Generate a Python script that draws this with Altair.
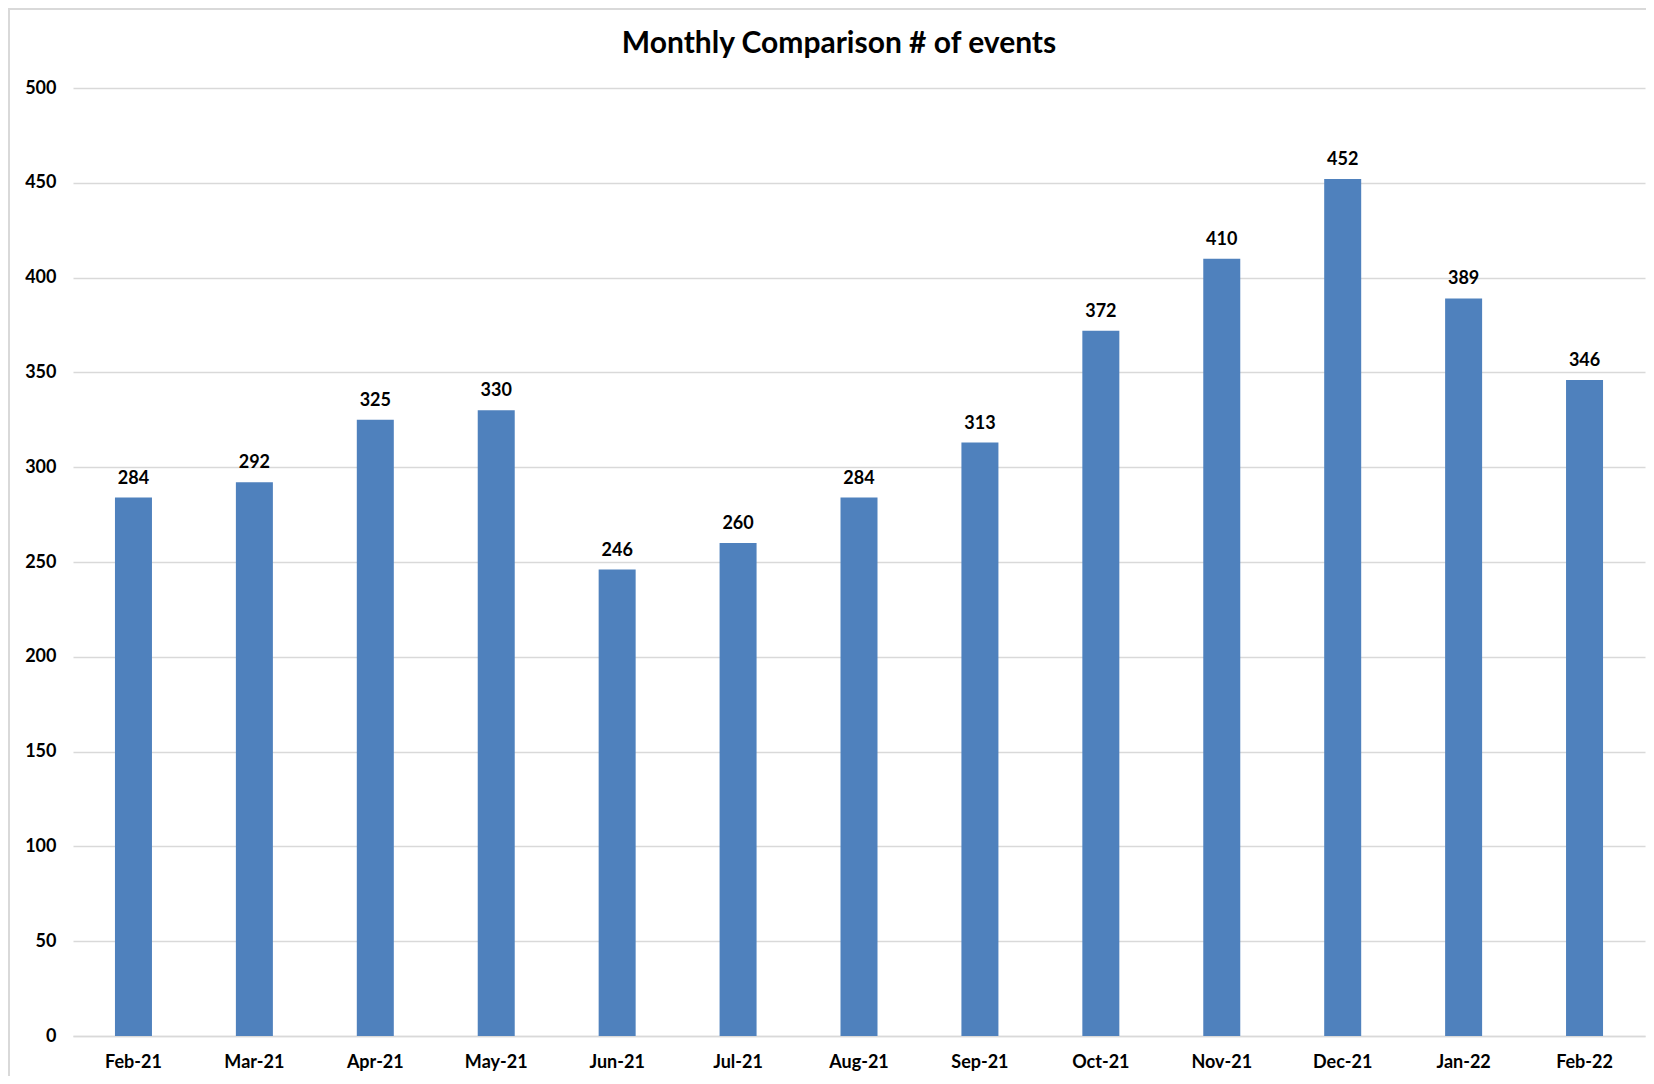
import altair as alt
import pandas as pd

months = ["Feb-21", "Mar-21", "Apr-21", "May-21", "Jun-21", "Jul-21", "Aug-21",
          "Sep-21", "Oct-21", "Nov-21", "Dec-21", "Jan-22", "Feb-22"]
events = [284, 292, 325, 330, 246, 260, 284, 313, 372, 410, 452, 389, 346]
y_ticks = [0, 50, 100, 150, 200, 250, 300, 350, 400, 450, 500]

df = pd.DataFrame({"month": months, "events": events})

FONT = "Lato"
W, H = 1572, 948

x_enc = alt.X("month:N", sort=months, title=None,
              scale=alt.Scale(paddingInner=0, paddingOuter=0),
              axis=alt.Axis(labelAngle=0, ticks=False, labelPadding=17,
                            labelFontSize=18, labelFontWeight="bold",
                            labelColor="#000000", labelFont=FONT,
                            domainColor="#d9d9d9", domainWidth=1.5, grid=False))
y_enc = alt.Y("events:Q", title=None,
              scale=alt.Scale(domain=[0, 500], nice=False),
              axis=alt.Axis(values=y_ticks, ticks=False, labelPadding=17,
                            labelFontSize=18, labelFontWeight="bold",
                            labelColor="#000000", labelFont=FONT,
                            domain=False, gridColor="#d9d9d9", gridWidth=1.5))

bars = alt.Chart(df).mark_bar(color="#4F81BD", width=37).encode(x=x_enc, y=y_enc)
labels = alt.Chart(df).mark_text(
    font=FONT, fontSize=18, fontWeight="bold", color="#000000",
    baseline="alphabetic", dy=-14
).encode(x=alt.X("month:N", sort=months), y="events:Q", text="events:Q")

border_left = alt.Chart(df).mark_rule(color="#d9d9d9", strokeWidth=2).encode(
    x=alt.value(-64), y=alt.value(-80), y2=alt.value(H + 40))
border_top = alt.Chart(df).mark_rule(color="#d9d9d9", strokeWidth=2).encode(
    x=alt.value(-64), x2=alt.value(W + 1), y=alt.value(-79))

chart = alt.layer(bars, labels, border_left, border_top).properties(
    width=W, height=H,
    autosize=alt.AutoSizeParams(type="none"),
    padding={"left": 65, "top": 80, "right": 1, "bottom": 40},
    title=alt.TitleParams("Monthly Comparison # of events", font=FONT,
                          fontSize=30, fontWeight="bold", color="#000000",
                          anchor="middle", baseline="alphabetic",
                          offset=-76, dx=-20),
).configure_view(stroke=None)

chart.save("out.html", embed_options={"renderer": "svg", "actions": False})
